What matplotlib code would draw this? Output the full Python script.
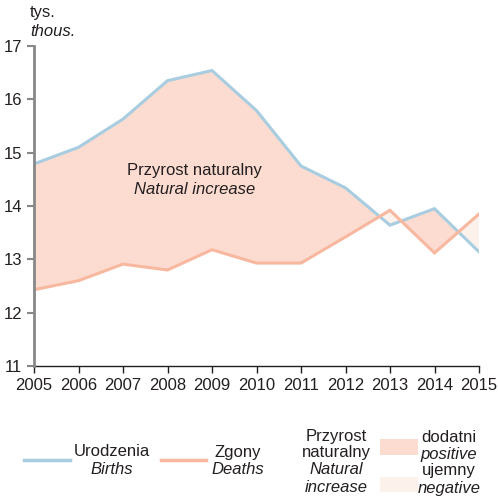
import numpy as np
import matplotlib
matplotlib.use("Agg")
import matplotlib.pyplot as plt
from matplotlib.lines import Line2D
from matplotlib.patches import Rectangle
from matplotlib import font_manager

# font: narrow sans if available
names = {f.name for f in font_manager.fontManager.ttflist}
fam = ['Liberation Sans Narrow', 'Liberation Sans', 'DejaVu Sans']
plt.rcParams['font.family'] = [n for n in fam if n in names] or ['DejaVu Sans']

#%% data (thousands)
years = [2005, 2006, 2007, 2008, 2009, 2010, 2011, 2012, 2013, 2014, 2015]
births = [14.79, 15.10, 15.63, 16.35, 16.54, 15.79, 14.75, 14.34, 13.64, 13.95, 13.14]
deaths = [12.43, 12.60, 12.91, 12.80, 13.18, 12.93, 12.93, 13.42, 13.92, 13.12, 13.85]
yticks = [11, 12, 13, 14, 15, 16, 17]

c_birth = '#a8cde0'
c_death = '#f8b8a0'
c_pos = '#fcdcd0'
c_neg = '#fcf1eb'
c_text = '#231f20'

W, H = 498, 499
fig = plt.figure(figsize=(W/100, H/100), dpi=100)
ax = fig.add_axes([34/W, 1-366/H, (479-34)/W, (366-46)/H])

x = np.array(years, dtype=float)
b = np.array(births)
d = np.array(deaths)
ax.fill_between(x, b, d, where=b >= d, interpolate=True, color=c_pos, lw=0)
ax.fill_between(x, b, d, where=b <= d, interpolate=True, color=c_neg, lw=0)
ax.plot(x, b, color=c_birth, lw=2.2, solid_joinstyle='miter')
ax.plot(x, d, color=c_death, lw=2.2, solid_joinstyle='miter')

ax.set_xlim(2005, 2015)
ax.set_ylim(11, 17)
ax.set_xticks(years)
ax.set_yticks(yticks)
ax.tick_params(labelsize=12, colors=c_text, length=5, width=1)
ax.tick_params(axis='y', color='#888888', width=1.5)
for s in ['top', 'right']:
    ax.spines[s].set_visible(False)
ax.spines['left'].set_color('#888888')
ax.spines['left'].set_linewidth(2)
ax.spines['bottom'].set_color(c_text)
ax.spines['bottom'].set_linewidth(1)
ax.spines['left'].set_zorder(5)

ax.text(2008.6, 14.67, 'Przyrost naturalny', ha='center', va='center', fontsize=12, color=c_text)
ax.text(2008.6, 14.30, 'Natural increase', ha='center', va='center', fontsize=12, color=c_text, style='italic')

# unit label
fig.text(30/W, 1-13/H, 'tys.', fontsize=12, color=c_text, va='center')
fig.text(30/W, 1-31/H, 'thous.', fontsize=12, color=c_text, va='center', style='italic')

# legend at the bottom
def fy(p):
    return 1 - p/H

fig.add_artist(Line2D([24/W, 70/W], [fy(460), fy(460)], color=c_birth, lw=2.5))
fig.add_artist(Line2D([161/W, 206/W], [fy(460), fy(460)], color=c_death, lw=2.5))
fig.text(112/W, fy(452), 'Urodzenia', ha='center', va='center', fontsize=12, color=c_text)
fig.text(112/W, fy(470), 'Births', ha='center', va='center', fontsize=12, color=c_text, style='italic')
fig.text(238/W, fy(452), 'Zgony', ha='center', va='center', fontsize=12, color=c_text)
fig.text(238/W, fy(470), 'Deaths', ha='center', va='center', fontsize=12, color=c_text, style='italic')
for i, (t, it) in enumerate([('Przyrost', False), ('naturalny', False), ('Natural', True), ('increase', True)]):
    fig.text(336/W, fy(436 + 17*i), t, ha='center', va='center', fontsize=12, color=c_text,
             style='italic' if it else 'normal')
fig.add_artist(Rectangle((380/W, fy(455)), 38/W, 16/H, color=c_pos, lw=0))
fig.add_artist(Rectangle((380/W, fy(492)), 38/W, 15/H, color=c_neg, lw=0))
fig.text(449/W, fy(438), 'dodatni', ha='center', va='center', fontsize=12, color=c_text)
fig.text(449/W, fy(455), 'positive', ha='center', va='center', fontsize=12, color=c_text, style='italic')
fig.text(449/W, fy(470), 'ujemny', ha='center', va='center', fontsize=12, color=c_text)
fig.text(449/W, fy(488), 'negative', ha='center', va='center', fontsize=12, color=c_text, style='italic')

fig.savefig('out.png', dpi=100)
